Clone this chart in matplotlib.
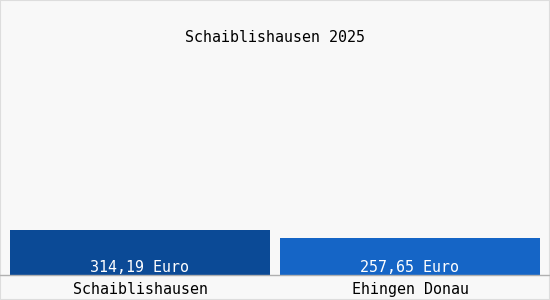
import matplotlib.pyplot as plt

titel = "Schaiblishausen 2025"
orte = ["Schaiblishausen", "Ehingen Donau"]
werte = [314.19, 257.65]
beschriftung = ["314,19 Euro", "257,65 Euro"]
farben = ["#0b4a96", "#1565c6"]

fig = plt.figure(figsize=(5.5, 3.0), dpi=100)
fig.patch.set_facecolor("#f8f8f8")

# Achse: unten bei y=275 px, Breite 540 px
ax = fig.add_axes([5 / 550, 25 / 300, 540 / 550, 215 / 300])
ax.set_facecolor("#f8f8f8")
pos = range(len(orte))
ax.bar(pos, werte, width=0.965, color=farben)
ax.set_xlim(-0.5, 1.5)
ax.set_ylim(0, 1500)

for p, t in zip(pos, beschriftung):
    ax.text(p, 0, t, ha="center", va="bottom", color="white",
            family="DejaVu Sans Mono", fontsize=10.8)

for s in ax.spines.values():
    s.set_visible(False)
ax.set_yticks([])
ax.set_xticks(list(pos))
ax.set_xticklabels(orte, family="DejaVu Sans Mono", fontsize=10.8)
ax.tick_params(axis="x", length=0, pad=5)

# Grundlinie ueber die ganze Breite
fig.add_artist(plt.Line2D([0, 1], [25 / 300, 25 / 300], color="#b0b0b0", lw=1))
# Rahmen
fig.add_artist(plt.Rectangle((0, 0), 1, 1, transform=fig.transFigure,
                             fill=False, edgecolor="#dddddd", lw=1.5))

fig.text(0.5, 1 - 38 / 300, titel, ha="center", va="center",
         family="DejaVu Sans Mono", fontsize=10.8)

fig.savefig("out.png", dpi=100, facecolor=fig.get_facecolor())
